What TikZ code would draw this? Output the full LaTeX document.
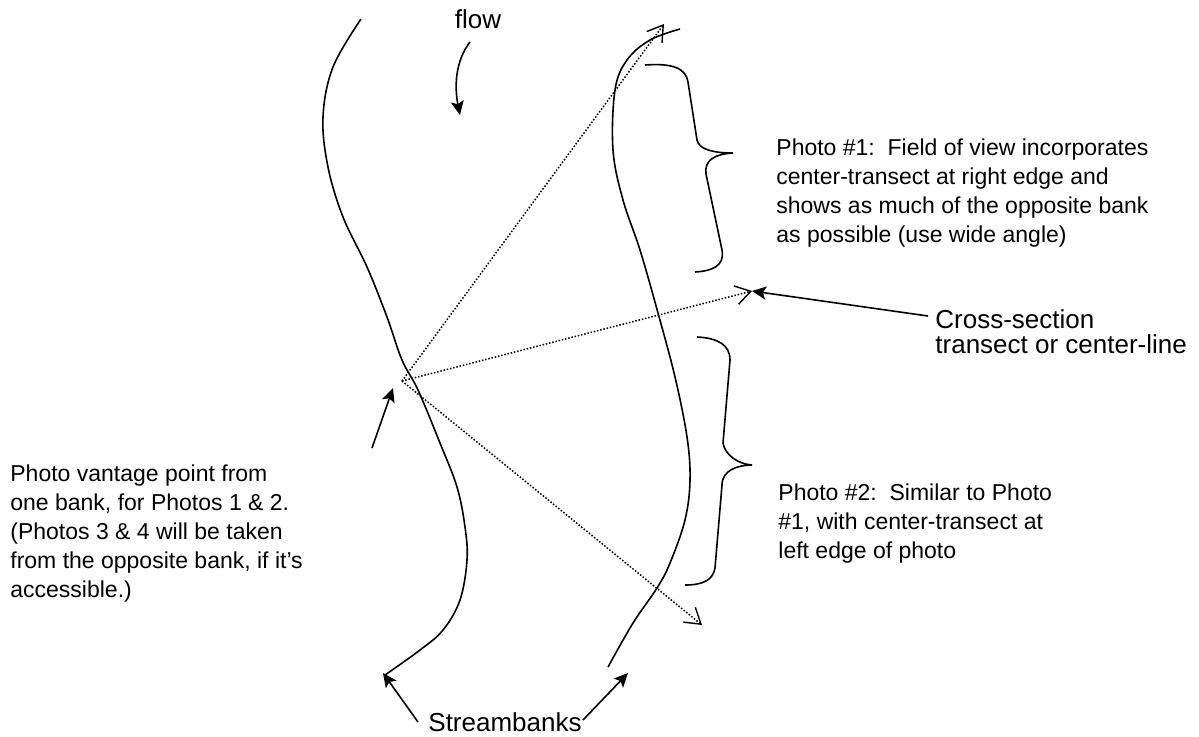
\documentclass[tikz,border=0pt]{standalone}
\usepackage{fontspec}
\setmainfont{Liberation Sans}
\usetikzlibrary{arrows.meta}

\begin{document}
\begin{tikzpicture} [
    x=0.5pt, y=-0.5pt,
    block/.style    = { inner sep=0pt, align=left, anchor=north west,
                        font=\fontsize{11.5}{14.5}\selectfont },
    label/.style    = { block, font=\fontsize{13}{12.5}\selectfont },
    line/.style     = { draw, line width=0.8pt,
                        -{Stealth[length=7pt,width=6.5pt,inset=1.5pt]} },
    sight/.style    = { draw, line width=0.75pt, dash pattern=on 0.75pt off 0.9pt,
                        -{Straight Barb[length=7.5pt,width=9.5pt,line width=0.7pt]} },
    bank/.style     = { draw, line width=0.8pt },
    brace/.style    = { draw, line width=0.8pt },
  ]
  \useasboundingbox (0,0) rectangle (1199,736);

  % Define nodes
  \node[label, anchor=base] (flow) at (478,28) {flow};
  \node[block] (photoone) at (776,138) {Photo \#1:\ \ Field of view incorporates\\
    center-transect at right edge and\\
    shows as much of the opposite bank\\
    as possible (use wide angle)};
  \node[label] (xsection) at (935,309) {Cross-section\\transect or center-line};
  \node[block] (phototwo) at (778,483) {Photo \#2:\ \ Similar to Photo\\
    \#1, with center-transect at\\
    left edge of photo};
  \node[block] (vantagetext) at (10,464) {Photo vantage point from\\
    one bank, for Photos 1 \& 2.\\
    (Photos 3 \& 4 will be taken\\
    from the opposite bank, if it’s\\
    accessible.)};
  \node[label, anchor=base] (streambanks) at (505,731) {Streambanks};

  % Define points
  \coordinate (vantage)     at (402,381);
  \coordinate (topview)     at (664,24);
  \coordinate (midview)     at (752,291);
  \coordinate (lowview)     at (702,625);
  \coordinate (flowtail)    at (470,42);
  \coordinate (flowtip)     at (460,115);
  \coordinate (vantagetail) at (372,448);
  \coordinate (vantagetip)  at (393,388);
  \coordinate (xsectail)    at (928,316);
  \coordinate (lefttail)    at (418,722);
  \coordinate (leftfoot)    at (383,673);
  \coordinate (righttail)   at (583,720);
  \coordinate (rightfoot)   at (628,673);

  % the two streambanks
  \path [bank] plot[smooth, tension=0.6] coordinates {(361,19) (333,67) (323,117)
    (328,167) (343,217) (367,267) (387,317) (402,360) (418,390) (440,443)
    (457,487) (465,527) (467,560) (460,600) (443,630) (420,650) (385,675)};
  \path [bank] plot[smooth, tension=0.6] coordinates {(680,29) (650,40) (627,60)
    (615,90) (613,150) (623,200) (640,250) (658,313) (675,377) (687,437)
    (690,480) (685,520) (670,563) (657,588) (633,623) (608,667)};

  % braces
  \path [brace] (645,65) .. controls (672,63) and (686,68) .. (688,82)
    -- (697,140) .. controls (699,150) and (715,153) .. (733,153)
    .. controls (715,154) and (704,160) .. (706,174)
    -- (722,250) .. controls (725,266) and (712,271) .. (695,272);
  \path [brace] (697,337) .. controls (718,338) and (730,345) .. (730,360)
    -- (723,443) .. controls (725,455) and (738,464) .. (752,465)
    .. controls (738,465) and (722,470) .. (722,485)
    -- (715,568) .. controls (713,580) and (703,585) .. (685,585);

  % connect the nodes
  \path [sight] (vantage) -- (topview);
  \path [sight] (vantage) -- (midview);
  \path [sight] (vantage) -- (lowview);
  \path [line] (flowtail) .. controls (456,60) and (454,85) .. (flowtip);
  \path [line] (vantagetail) -- (vantagetip);
  \path [line] (xsectail) -- (midview);
  \path [line] (lefttail) -- (leftfoot);
  \path [line] (righttail) -- (rightfoot);
\end{tikzpicture}
\end{document}
